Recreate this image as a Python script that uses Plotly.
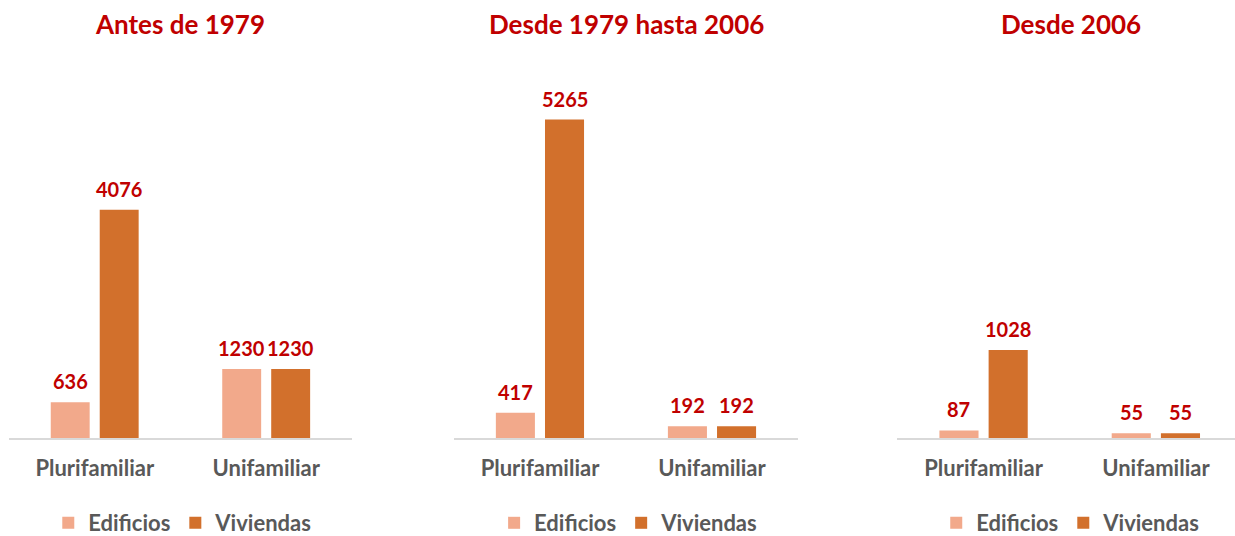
import plotly.graph_objects as go

categories = ["Plurifamiliar", "Unifamiliar"]
panel_titles = ["Antes de 1979", "Desde 1979 hasta 2006", "Desde 2006"]
edificios = [[636, 1230], [417, 192], [87, 55]]
viviendas = [[4076, 1230], [5265, 192], [1028, 55]]
series_names = ["Edificios", "Viviendas"]

C_EDIF = "#F2A98B"
C_VIV = "#D2702C"
RED = "#C00000"
GRAY = "#595959"
FONT = "Lato"

x_domains = [[0.0073, 0.2850], [0.3676, 0.6462], [0.7267, 1.0]]
x_ranges = [[-0.5, 1.5], [-0.5, 1.5], [-0.5, 1.459]]
y_max = [6750, 6250, 4420]
y_dom = [0.183, 0.888]
legend_x = [0.148, 0.509, 0.867]
title_x = [0.146, 0.507, 0.867]

BAR_W = 0.227
OFFSETS = [-0.2566, 0.029]

fig = go.Figure()
annotations = []
for p in range(3):
    ax = "" if p == 0 else str(p + 1)
    leg = "legend" if p == 0 else f"legend{p + 1}"
    for s, (name, vals, col) in enumerate(zip(series_names, [edificios[p], viviendas[p]], [C_EDIF, C_VIV])):
        fig.add_trace(go.Bar(
            x=categories, y=vals, name=name, marker=dict(color=col, line=dict(width=0)),
            width=BAR_W, offset=OFFSETS[s], xaxis="x" + ax, yaxis="y" + ax, legend=leg,
            hoverinfo="x+y+name",
        ))
        for i, v in enumerate(vals):
            annotations.append(dict(
                x=i + OFFSETS[s] + BAR_W / 2, y=v, xref="x" + ax, yref="y" + ax,
                text=str(v), showarrow=False, yanchor="bottom", yshift=7,
                font=dict(family=FONT, size=20, color=RED, weight="bold"),
            ))
    annotations.append(dict(
        x=title_x[p], y=1 - 24 / 536, xref="paper", yref="paper", text=panel_titles[p],
        showarrow=False, xanchor="center", yanchor="middle",
        font=dict(family=FONT, size=26, color=RED, weight="bold"),
    ))
    fig.update_layout({
        "xaxis" + ax: dict(domain=x_domains[p], range=x_ranges[p], anchor="y" + ax,
                           showline=True, linecolor="#D9D9D9", linewidth=2, showgrid=False,
                           ticks="outside", ticklen=0, ticklabelstandoff=10, zeroline=False,
                           tickfont=dict(family=FONT, size=22, color=GRAY, weight="bold")),
        "yaxis" + ax: dict(domain=y_dom, range=[0, y_max[p]], anchor="x" + ax,
                           visible=False, showgrid=False, zeroline=False),
        leg: dict(orientation="h", x=legend_x[p], xanchor="center", y=1 - 523 / 536,
                  yanchor="middle", font=dict(family=FONT, size=22, color=GRAY, weight="bold"),
                  itemwidth=30, bgcolor="rgba(0,0,0,0)", traceorder="normal"),
    })

fig.update_layout(
    width=1235, height=536, margin=dict(l=0, r=0, t=0, b=0, autoexpand=False),
    paper_bgcolor="white", plot_bgcolor="white", showlegend=True,
    barmode="group", annotations=annotations,
)
fig.write_html("out.html", post_script="document.body.style.margin='0';document.body.style.overflow='hidden';",
               config={"displayModeBar": False})
